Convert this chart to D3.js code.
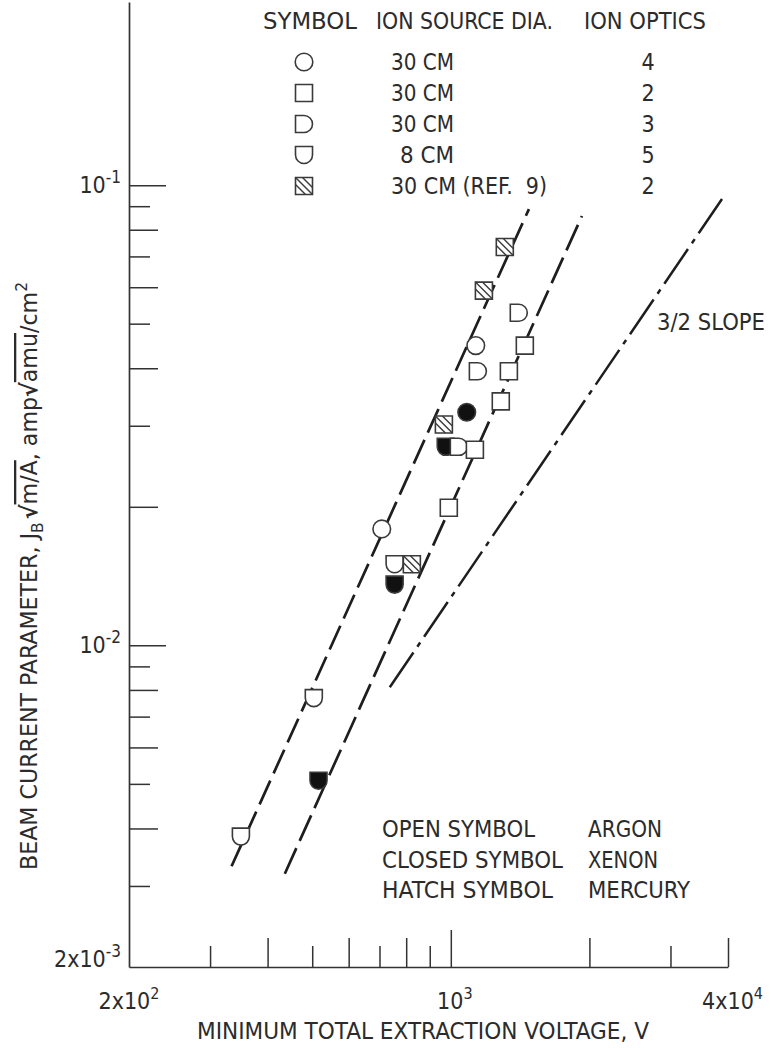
<!DOCTYPE html>
<html>
<head>
<meta charset="utf-8">
<script src="https://cdn.jsdelivr.net/npm/d3@7"></script>
<style>
  html, body { margin: 0; padding: 0; background: #fff; }
  svg { display: block; }
  text { font-family: "Liberation Sans Narrow", "DejaVu Sans Condensed", "Liberation Sans", Arial, sans-serif;
         font-size: 23px; fill: #2b2b2b; white-space: pre; }
</style>
</head>
<body>
<svg id="chart" width="771" height="1048"></svg>
<script>
// Beam current parameter against minimum total extraction voltage (log-log)

// axis ticks and labels
const xTickValues = [300, 400, 500, 600, 700, 800, 900, 1000, 2000, 3000, 4000];
const yTickValues = [0.003, 0.004, 0.005, 0.006, 0.007, 0.008, 0.009, 0.01,
                     0.02, 0.03, 0.04, 0.05, 0.06, 0.07, 0.08, 0.09, 0.1];
const xLabelValues = [200, 1000, 4000];
const xLabelBase = ["2x10", "10", "4x10"];
const xLabelExp = ["2", "3", "4"];
const yLabelValues = [0.1, 0.01, 0.002];
const yLabelBase = ["10", "10", "2x10"];
const yLabelExp = ["-1", "-2", "-3"];

// measured points: [voltage, V ; beam current parameter]
const argonCircle   = [[1133, 0.0448], [708, 0.0179]];
const argonSquare   = [[1448, 0.0448], [1337, 0.0394], [1284, 0.0339], [1128, 0.0266], [990, 0.0199]];
const argonDee      = [[1405, 0.0528], [1145, 0.0394], [1041, 0.0270]];
const argonCup      = [[755, 0.0150], [504, 0.00768], [350, 0.00384]];
const xenonCircle   = [[1083, 0.0321]];
const xenonCup      = [[975, 0.0270], [755, 0.01355], [516, 0.00508]];
const mercurySquare = [[1310, 0.0734], [1180, 0.0590], [966, 0.0302], [823, 0.0150]];

// correlation lines: end points [voltage, parameter]
const fitLineA  = [[334, 0.00331], [1478, 0.0887]];
const fitLineB  = [[436, 0.00319], [1927, 0.0857]];
const slopeLine = [[737, 0.00811], [3882, 0.0933]];

// symbol key
const keyShapes = ["circle", "square", "dee", "cup", "hatch"];
const keyDiameter = ["30 CM", "30 CM", "30 CM", "8 CM", "30 CM (REF.  9)"];
const keyOptics = ["4", "2", "3", "5", "2"];
const keyHeaders = ["SYMBOL", "ION SOURCE DIA.", "ION OPTICS"];

// gas key
const gasSymbolText = ["OPEN SYMBOL", "CLOSED SYMBOL", "HATCH SYMBOL"];
const gasNames = ["ARGON", "XENON", "MERCURY"];

const svg = d3.select("#chart");
const x = d3.scaleLog().domain([200, 4000]).range([129, 728]);
const y = d3.scaleLog().domain([0.002, 0.25]).range([967, 2]);

const ink = "#1e1e1e";

// set a text string into a fixed width so the lettering keeps its spread
function label(px, py, str, len, anchor) {
  const t = svg.append("text").attr("x", px).attr("y", py)
    .attr("text-anchor", anchor || "start").text(str);
  if (len) t.attr("textLength", len).attr("lengthAdjust", "spacingAndGlyphs");
  return t;
}

function tickLen(v) {
  const p = Math.pow(10, Math.floor(Math.log10(v) + 1e-9));
  const lead = Math.round(v / p);
  if (lead === 1) return 37;
  return lead % 2 === 0 ? 29 : 21;
}

// axes, ticks pointing into the plot
const gx = svg.append("g")
  .attr("transform", `translate(0,${y.range()[0]})`)
  .call(d3.axisBottom(x).tickValues(xTickValues).tickFormat("").tickSizeOuter(0));
gx.selectAll(".tick line").attr("y2", d => -tickLen(d));

const gy = svg.append("g")
  .attr("transform", `translate(${x.range()[0]},0)`)
  .call(d3.axisLeft(y).tickValues(yTickValues).tickFormat("").tickSizeOuter(0));
gy.selectAll(".tick line").attr("x2", d => tickLen(d));

svg.selectAll(".domain").attr("stroke", "#333").attr("stroke-width", 1.7);
svg.selectAll(".tick line").attr("stroke", "#333").attr("stroke-width", 1.5);

// tick labels with exponents
function powerLabel(px, py, base, exp, anchor, size) {
  const t = svg.append("text").attr("x", px).attr("y", py)
    .attr("text-anchor", anchor).attr("font-size", size);
  t.append("tspan").text(base);
  t.append("tspan").attr("dy", -10).attr("font-size", size - 5).text(exp);
  return t;
}
xLabelValues.forEach((v, i) => {
  const last = i === xLabelValues.length - 1;
  const px = last ? x(v) + 35 : x(v) + (i === 0 ? 0 : 4);
  powerLabel(px, y.range()[0] + 42, xLabelBase[i], xLabelExp[i], last ? "end" : "middle", 21);
});
yLabelValues.forEach((v, i) => {
  const py = y(v) + (i === yLabelValues.length - 1 ? 0 : 8);
  powerLabel(121, py, yLabelBase[i], yLabelExp[i], "end", 22);
});

// axis titles
label(197, 1039, "MINIMUM TOTAL EXTRACTION VOLTAGE, V", 452);

const yt = svg.append("text")
  .attr("transform", "translate(37,870) rotate(-90)")
  .attr("textLength", 588).attr("lengthAdjust", "spacingAndGlyphs");
yt.append("tspan").text("BEAM CURRENT PARAMETER, J");
yt.append("tspan").attr("dy", 6).attr("font-size", 16).text("B");
yt.append("tspan").attr("dy", -6).attr("font-weight", "bold").attr("dx", 3).text("\u221A");
yt.append("tspan").style("text-decoration", "overline").text("m/A");
yt.append("tspan").text(", amp");
yt.append("tspan").attr("font-weight", "bold").text("\u221A");
yt.append("tspan").style("text-decoration", "overline").text("amu");
yt.append("tspan").text("/cm");
yt.append("tspan").attr("dy", -10).attr("font-size", 16).text("2");

// correlation lines
const line = d3.line().x(d => x(d[0])).y(d => y(d[1]));
svg.append("path").datum(fitLineA).attr("d", line)
  .attr("fill", "none").attr("stroke", ink).attr("stroke-width", 2.7)
  .attr("stroke-dasharray", "26,8");
svg.append("path").datum(fitLineB).attr("d", line)
  .attr("fill", "none").attr("stroke", ink).attr("stroke-width", 2.7)
  .attr("stroke-dasharray", "28,8");
svg.append("path").datum(slopeLine).attr("d", line)
  .attr("fill", "none").attr("stroke", ink).attr("stroke-width", 2.5)
  .attr("stroke-dasharray", "42,7,5,7");

label(657, 330, "3/2 SLOPE", 108);

// symbols
const R = 8.5;
const Rc = R + 0.3;
const shapePaths = {
  circle: `M${Rc},0A${Rc},${Rc} 0 1,1 ${-Rc},0A${Rc},${Rc} 0 1,1 ${Rc},0Z`,
  square: `M${-R},${-R}H${R}V${R}H${-R}Z`,
  dee: `M${-R},${-R}H0A${R},${R} 0 0,1 0,${R}H${-R}Z`,
  cup: `M${-R},${-R}H${R}V0A${R},${R} 0 0,1 ${-R},0Z`,
  hatch: `M${-R},${-R}H${R}V${R}H${-R}Z`
};
function hatchLines(c) {
  return c >= 0 ? [[-R + c, -R], [R, R - c]] : [[-R, -R - c], [R + c, R]];
}
function drawSymbol(parent, shape, filled, cx, cy) {
  const g = parent.append("g").attr("transform", `translate(${cx},${cy})`);
  g.append("path").attr("d", shapePaths[shape])
    .attr("fill", filled ? "#111" : "#fff")
    .attr("stroke", "#3a3a3a").attr("stroke-width", 1.6);
  if (shape === "hatch") {
    [-7, 0, 7].forEach(c => {
      const seg = hatchLines(c);
      g.append("line")
        .attr("x1", seg[0][0]).attr("y1", seg[0][1])
        .attr("x2", seg[1][0]).attr("y2", seg[1][1])
        .attr("stroke", "#3a3a3a").attr("stroke-width", 1.4);
    });
  }
}

const series = [
  { data: xenonCup, shape: "cup", filled: true },
  { data: xenonCircle, shape: "circle", filled: true },
  { data: argonDee, shape: "dee", filled: false },
  { data: argonCircle, shape: "circle", filled: false },
  { data: argonCup, shape: "cup", filled: false },
  { data: argonSquare, shape: "square", filled: false },
  { data: mercurySquare, shape: "hatch", filled: false }
];
const marks = svg.append("g");
series.forEach(s => {
  s.data.forEach(d => drawSymbol(marks, s.shape, s.filled, x(d[0]), y(d[1])));
});

// symbol key
const headerX = [263, 376, 584];
const headerLen = [94, 177, 122];
keyHeaders.forEach((h, i) => label(headerX[i], 29, h, headerLen[i]));
const diaX = [391, 391, 391, 400, 391];
const diaLen = [63, 63, 63, 54, 156];
keyShapes.forEach((s, i) => {
  const ry = 62 + i * 31;
  drawSymbol(svg, s, false, 304, ry);
  label(diaX[i], ry + 7.5, keyDiameter[i], diaLen[i]);
  label(648, ry + 7.5, keyOptics[i], null, "middle");
});

// gas key
const gasLen = [153, 181, 171];
const nameLen = [74, 70, 102];
gasSymbolText.forEach((t, i) => {
  const by = 837 + i * 30.5;
  label(382, by, t, gasLen[i]);
  label(588, by, gasNames[i], nameLen[i]);
});
</script>
</body>
</html>
